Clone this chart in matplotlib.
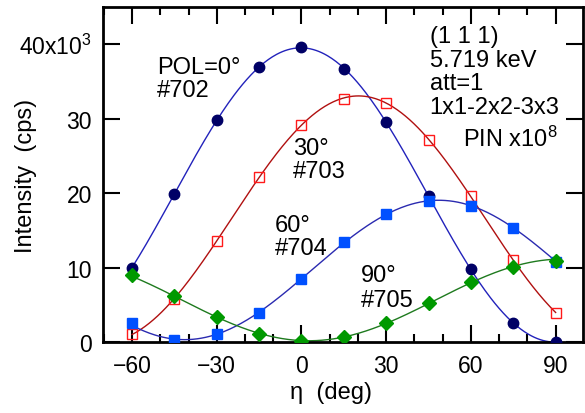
import numpy as np
import matplotlib
matplotlib.use("Agg")
import matplotlib.pyplot as plt
from matplotlib.ticker import MultipleLocator, FixedLocator

plt.rcParams['font.family'] = ['Liberation Sans', 'DejaVu Sans']
plt.rcParams['mathtext.fontset'] = 'custom'
plt.rcParams['mathtext.rm'] = 'Liberation Sans'
plt.rcParams['mathtext.it'] = 'Liberation Sans:italic'

eta = [-60, -45, -30, -15, 0, 15, 30, 45, 60, 75, 90]
pol0 = [10.0, 19.9, 29.8, 36.9, 39.6, 36.7, 29.5, 19.6, 9.8, 2.5, 0.0]
pol30 = [1.07, 5.8, 13.6, 22.1, 29.2, 32.7, 32.1, 27.2, 19.6, 11.0, 3.9]
pol60 = [2.5, 0.3, 1.07, 3.9, 8.4, 13.4, 17.2, 19.0, 18.3, 15.3, 10.7]
pol90 = [9.0, 6.2, 3.35, 1.07, 0.1, 0.7, 2.5, 5.3, 8.0, 10.1, 10.9]

ytick_vals = [0, 10, 20, 30, 40]
ytick_labels = ['0', '10', '20', '30', r'40x10$^3$']
xtick_vals = [-60, -30, 0, 30, 60, 90]


def fit_curve(x, y, xs):
    x = np.radians(np.asarray(x, float))
    A = np.column_stack([np.ones_like(x), np.cos(2 * x), np.sin(2 * x)])
    c, *_ = np.linalg.lstsq(A, np.asarray(y, float), rcond=None)
    r = np.radians(xs)
    return c[0] + c[1] * np.cos(2 * r) + c[2] * np.sin(2 * r)


fig = plt.figure(figsize=(5.85, 4.14), dpi=100)
ax = fig.add_axes([0.176, 0.1715, 0.8206, 0.8092])

xs = np.linspace(-60, 90, 300)
series = [
    (pol0, 'o', '#000066', '#000066', '#2222bb', 7.5),
    (pol30, 's', 'none', '#ff1a1a', '#b01010', 7.5),
    (pol60, 's', '#0050ff', '#0050ff', '#2a2ab0', 7),
    (pol90, 'D', '#009900', '#009900', '#1e7a1e', 7),
]
for ys, m, fc, ec, lc, ms in series:
    ax.plot(xs, fit_curve(eta, ys, xs), color=lc, lw=1.0, zorder=2)
    ax.plot(eta, ys, linestyle='none', marker=m, ms=ms, mfc=fc, mec=ec,
            mew=1.0, zorder=3)

ax.set_xlim(-70.3, 99.7)
ax.set_ylim(0, 45)
ax.xaxis.set_major_locator(FixedLocator(xtick_vals))
ax.xaxis.set_minor_locator(MultipleLocator(10))
ax.yaxis.set_major_locator(FixedLocator(ytick_vals))
ax.set_yticklabels(ytick_labels)
ax.tick_params(which='both', direction='in', top=True, right=True,
               width=1.5, labelsize=16.5)
ax.tick_params(which='major', length=12)
ax.tick_params(axis='y', which='major', pad=8)
ax.tick_params(axis='x', which='major', pad=9)
ax.tick_params(which='minor', length=6)
for s in ax.spines.values():
    s.set_linewidth(2)

ax.set_xlabel('η  (deg)', fontsize=17)
ax.xaxis.set_label_coords(0.475, -0.115)
ax.set_ylabel('Intensity  (cps)', fontsize=17)
ax.yaxis.set_label_coords(-0.138, 0.5)

fs = 17
lines = [
    (-51.2, 36.2, 'POL=0°'), (-51.2, 33.0, '#702'),
    (-3.0, 25.2, '30°'), (-3.0, 22.1, '#703'),
    (-9.4, 14.9, '60°'), (-9.4, 11.8, '#704'),
    (21.0, 8.2, '90°'), (21.0, 4.85, '#705'),
    (45.4, 40.3, '(1 1 1)'), (45.4, 37.05, '5.719 keV'),
    (45.4, 33.96, 'att=1'), (45.4, 30.74, '1x1-2x2-3x3'),
    (57.1, 26.3, r'PIN x10$^8$'),
]
for x, y, t in lines:
    ax.text(x, y, t, fontsize=fs, va='baseline', ha='left')

fig.savefig('out.png', dpi=100)
